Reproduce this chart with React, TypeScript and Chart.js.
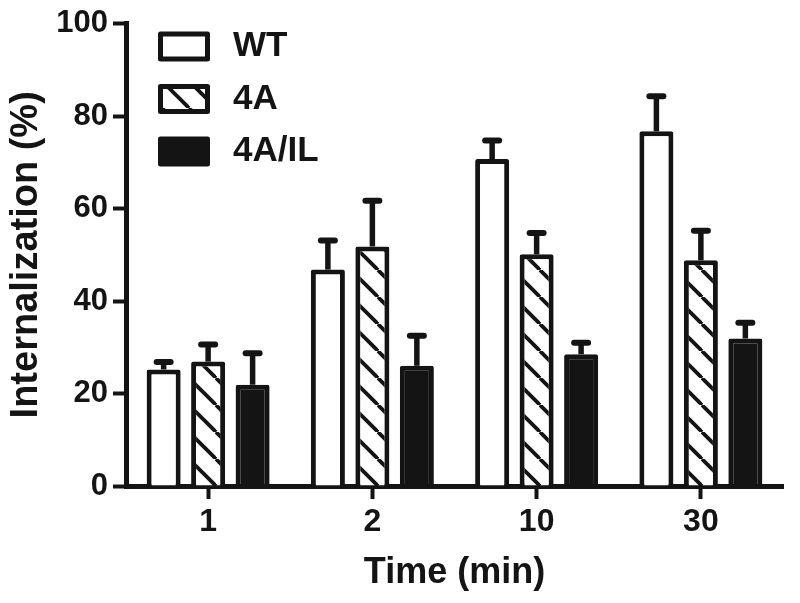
import React, { useEffect, useRef } from 'react';
import { Chart, registerables } from 'chart.js';

Chart.register(...registerables);

// ---- data ----
const categories = ['1', '2', '10', '30'];
const seriesLabels = ['WT', '4A', '4A/IL'];
const wtValues = [25.2, 46.8, 70.7, 76.7];
const wtErrors = [1.6, 6.3, 4.0, 7.6];
const a4Values = [26.9, 51.8, 50.1, 48.8];
const a4Errors = [3.7, 9.9, 4.6, 6.4];
const ilValues = [21.9, 26.0, 28.5, 31.9];
const ilErrors = [6.8, 6.5, 2.5, 3.4];
const yMin = 0;
const yMax = 100;
const yStep = 20;
const xTitle = 'Time (min)';
const yTitle = 'Internalization (%)';

const INK = '#141414';
const FONT = '"Liberation Sans", Arial, Helvetica, sans-serif';

function makeHatch(): CanvasPattern | string {
  const s = 27;
  const c = document.createElement('canvas');
  c.width = s;
  c.height = s;
  const g = c.getContext('2d');
  if (!g) return '#ffffff';
  g.fillStyle = '#ffffff';
  g.fillRect(0, 0, s, s);
  g.strokeStyle = INK;
  g.lineWidth = 3.8;
  for (let k = -1; k <= 1; k++) {
    g.beginPath();
    g.moveTo(k * s, 0);
    g.lineTo(k * s + s, s);
    g.stroke();
  }
  const p = g.createPattern(c, 'repeat');
  return p || '#ffffff';
}

const errorBarPlugin = {
  id: 'errorBars',
  afterDatasetsDraw(chart: any) {
    const ctx = chart.ctx;
    const yScale = chart.scales.y;
    chart.data.datasets.forEach((ds: any, i: number) => {
      const meta = chart.getDatasetMeta(i);
      meta.data.forEach((bar: any, j: number) => {
        const top = yScale.getPixelForValue(ds.data[j] + ds.errors[j]);
        ctx.save();
        ctx.strokeStyle = INK;
        ctx.lineWidth = 5.5;
        ctx.lineCap = 'butt';
        ctx.beginPath();
        ctx.moveTo(bar.x, bar.y);
        ctx.lineTo(bar.x, top);
        ctx.stroke();
        ctx.lineWidth = 6;
        ctx.lineCap = 'round';
        ctx.beginPath();
        ctx.moveTo(bar.x - 7, top);
        ctx.lineTo(bar.x + 7, top);
        ctx.stroke();
        ctx.restore();
      });
    });
  },
};

const legendPlugin = {
  id: 'insideLegend',
  afterDraw(chart: any) {
    const ctx = chart.ctx;
    const area = chart.chartArea;
    const x0 = area.left + 32;
    const y0 = area.top + 8;
    const rowStep = 52.5;
    const boxW = 52;
    const boxH = 30;
    const bw = 5;
    chart.data.datasets.forEach((ds: any, i: number) => {
      const y = y0 + i * rowStep;
      ctx.save();
      ctx.fillStyle = ds.backgroundColor;
      ctx.fillRect(x0 + bw / 2, y + bw / 2, boxW - bw, boxH - bw);
      ctx.strokeStyle = INK;
      ctx.lineWidth = bw;
      ctx.lineJoin = 'round';
      ctx.strokeRect(x0 + bw / 2, y + bw / 2, boxW - bw, boxH - bw);
      ctx.fillStyle = INK;
      ctx.font = `bold 35px ${FONT}`;
      ctx.textBaseline = 'middle';
      ctx.textAlign = 'left';
      ctx.fillText(ds.label, x0 + boxW + 23, y + boxH / 2);
      ctx.restore();
    });
  },
};

export default function App() {
  const ref = useRef<HTMLCanvasElement | null>(null);

  useEffect(() => {
    if (!ref.current) return;
    const hatch = makeHatch();
    const common = {
      borderColor: INK,
      borderWidth: 5,
      borderRadius: 2,
      borderSkipped: 'start' as const,
      barPercentage: 0.765,
      categoryPercentage: 0.8125,
    };
    const chart = new Chart(ref.current, {
      type: 'bar',
      data: {
        labels: categories,
        datasets: [
          { ...common, label: seriesLabels[0], data: wtValues, errors: wtErrors, backgroundColor: '#ffffff' } as any,
          { ...common, label: seriesLabels[1], data: a4Values, errors: a4Errors, backgroundColor: hatch } as any,
          { ...common, label: seriesLabels[2], data: ilValues, errors: ilErrors, backgroundColor: INK } as any,
        ],
      },
      options: {
        animation: false,
        responsive: false,
        events: [],
        layout: { padding: { left: 0, right: 17, top: 22, bottom: 0 } },
        plugins: {
          legend: { display: false },
          tooltip: { enabled: false },
        },
        scales: {
          x: {
            z: 1,
            offset: true,
            grid: {
              offset: false,
              drawOnChartArea: false,
              drawTicks: true,
              tickLength: 13,
              tickWidth: 4,
              tickColor: INK,
            },
            border: { display: true, width: 5, color: INK },
            ticks: {
              color: INK,
              padding: 4,
              font: { family: FONT, size: 32, weight: 'bold' },
            },
            title: {
              display: true,
              text: xTitle,
              color: INK,
              font: { family: FONT, size: 36, weight: 'bold' },
              padding: { top: 0, bottom: 8 },
            },
            afterFit(scale: any) {
              scale.height = 117;
            },
          },
          y: {
            z: 1,
            min: yMin,
            max: yMax,
            grid: {
              drawOnChartArea: false,
              drawTicks: true,
              tickLength: 13,
              tickWidth: 4,
              tickColor: INK,
            },
            border: { display: true, width: 5, color: INK },
            ticks: {
              stepSize: yStep,
              color: INK,
              padding: 5,
              font: { family: FONT, size: 31, weight: 'bold' },
            },
            title: {
              display: true,
              text: yTitle,
              color: INK,
              font: { family: FONT, size: 38, weight: 'bold' },
              padding: { top: 4, bottom: 0 },
            },
            afterFit(scale: any) {
              scale.width = 126;
            },
          },
        },
      } as any,
      plugins: [errorBarPlugin, legendPlugin],
    });
    return () => chart.destroy();
  }, []);

  return (
    <div style={{ position: 'absolute', left: 0, top: 0, width: 800, height: 603, background: '#ffffff' }}>
      <canvas ref={ref} width={800} height={603} />
    </div>
  );
}
